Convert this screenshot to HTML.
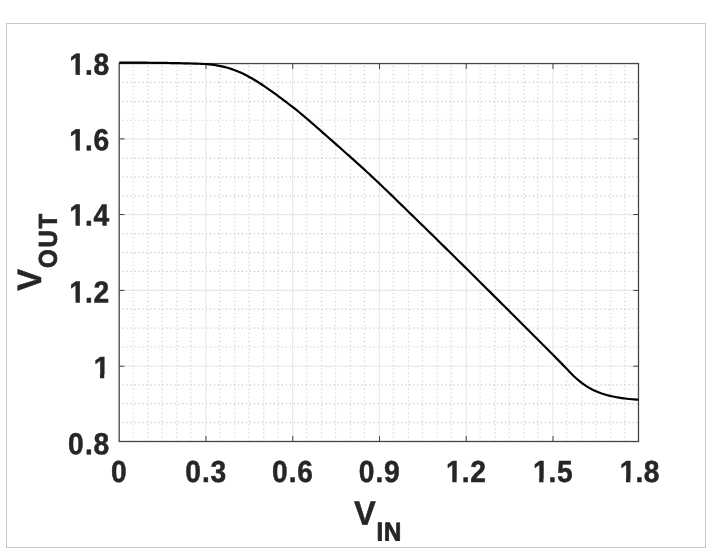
<!DOCTYPE html>
<html lang="en"><head><meta charset="utf-8"><title>VOUT vs VIN</title>
<style>
html,body{margin:0;padding:0;background:#fff;}
body{width:708px;height:555px;overflow:hidden;position:relative;}
svg{position:absolute;left:0;top:0;display:block;}
text{font-family:"Liberation Sans",sans-serif;font-weight:bold;fill:#262626;}
</style></head><body>
<svg width="708" height="555" viewBox="0 0 708 555">
<rect x="0" y="0" width="708" height="555" fill="#ffffff"/>
<rect x="6.5" y="23.5" width="699" height="524" fill="#ffffff" stroke="#c9c9c9" stroke-width="1"/>
<g stroke="#c9c9c9" stroke-width="1.2" stroke-dasharray="1 2.985" fill="none">
<line x1="133.10" y1="65.95" x2="133.10" y2="441.50"/>
<line x1="148.09" y1="65.95" x2="148.09" y2="441.50"/>
<line x1="162.16" y1="65.95" x2="162.16" y2="441.50"/>
<line x1="176.95" y1="65.95" x2="176.95" y2="441.50"/>
<line x1="191.01" y1="65.95" x2="191.01" y2="441.50"/>
<line x1="219.86" y1="65.95" x2="219.86" y2="441.50"/>
<line x1="234.85" y1="65.95" x2="234.85" y2="441.50"/>
<line x1="248.92" y1="65.95" x2="248.92" y2="441.50"/>
<line x1="263.71" y1="65.95" x2="263.71" y2="441.50"/>
<line x1="277.77" y1="65.95" x2="277.77" y2="441.50"/>
<line x1="306.62" y1="65.95" x2="306.62" y2="441.50"/>
<line x1="321.61" y1="65.95" x2="321.61" y2="441.50"/>
<line x1="335.68" y1="65.95" x2="335.68" y2="441.50"/>
<line x1="350.47" y1="65.95" x2="350.47" y2="441.50"/>
<line x1="364.53" y1="65.95" x2="364.53" y2="441.50"/>
<line x1="393.38" y1="65.95" x2="393.38" y2="441.50"/>
<line x1="408.37" y1="65.95" x2="408.37" y2="441.50"/>
<line x1="422.44" y1="65.95" x2="422.44" y2="441.50"/>
<line x1="437.23" y1="65.95" x2="437.23" y2="441.50"/>
<line x1="451.29" y1="65.95" x2="451.29" y2="441.50"/>
<line x1="480.14" y1="65.95" x2="480.14" y2="441.50"/>
<line x1="495.13" y1="65.95" x2="495.13" y2="441.50"/>
<line x1="509.20" y1="65.95" x2="509.20" y2="441.50"/>
<line x1="523.99" y1="65.95" x2="523.99" y2="441.50"/>
<line x1="538.05" y1="65.95" x2="538.05" y2="441.50"/>
<line x1="566.90" y1="65.95" x2="566.90" y2="441.50"/>
<line x1="581.89" y1="65.95" x2="581.89" y2="441.50"/>
<line x1="595.96" y1="65.95" x2="595.96" y2="441.50"/>
<line x1="610.75" y1="65.95" x2="610.75" y2="441.50"/>
<line x1="624.81" y1="65.95" x2="624.81" y2="441.50"/>
<line stroke="#bdbdbd" x1="122.50" y1="422.60" x2="638.50" y2="422.60"/>
<line stroke="#bdbdbd" x1="122.50" y1="403.71" x2="638.50" y2="403.71"/>
<line stroke="#bdbdbd" x1="122.50" y1="384.81" x2="638.50" y2="384.81"/>
<line stroke="#bdbdbd" x1="122.50" y1="347.01" x2="638.50" y2="347.01"/>
<line stroke="#bdbdbd" x1="122.50" y1="328.12" x2="638.50" y2="328.12"/>
<line stroke="#bdbdbd" x1="122.50" y1="309.22" x2="638.50" y2="309.22"/>
<line stroke="#bdbdbd" x1="122.50" y1="271.42" x2="638.50" y2="271.42"/>
<line stroke="#bdbdbd" x1="122.50" y1="252.53" x2="638.50" y2="252.53"/>
<line stroke="#bdbdbd" x1="122.50" y1="233.63" x2="638.50" y2="233.63"/>
<line stroke="#bdbdbd" x1="122.50" y1="195.83" x2="638.50" y2="195.83"/>
<line stroke="#bdbdbd" x1="122.50" y1="176.94" x2="638.50" y2="176.94"/>
<line stroke="#bdbdbd" x1="122.50" y1="158.04" x2="638.50" y2="158.04"/>
<line stroke="#bdbdbd" x1="122.50" y1="120.24" x2="638.50" y2="120.24"/>
<line stroke="#bdbdbd" x1="122.50" y1="101.34" x2="638.50" y2="101.34"/>
<line stroke="#bdbdbd" x1="122.50" y1="82.45" x2="638.50" y2="82.45"/>
</g>
<g stroke="#e7e7e7" stroke-width="1.15" fill="none">
<line x1="205.96" y1="63.55" x2="205.96" y2="441.50"/>
<line x1="292.72" y1="63.55" x2="292.72" y2="441.50"/>
<line x1="379.48" y1="63.55" x2="379.48" y2="441.50"/>
<line x1="466.24" y1="63.55" x2="466.24" y2="441.50"/>
<line x1="553.00" y1="63.55" x2="553.00" y2="441.50"/>
<line x1="119.20" y1="366.20" x2="638.50" y2="366.20"/>
<line x1="119.20" y1="290.42" x2="638.50" y2="290.42"/>
<line x1="119.20" y1="214.55" x2="638.50" y2="214.55"/>
<line x1="119.20" y1="138.90" x2="638.50" y2="138.90"/>
</g>
<g stroke="#404040" stroke-width="1" fill="none">
<line x1="205.96" y1="441.50" x2="205.96" y2="436.10"/>
<line x1="205.96" y1="63.55" x2="205.96" y2="68.95"/>
<line x1="292.72" y1="441.50" x2="292.72" y2="436.10"/>
<line x1="292.72" y1="63.55" x2="292.72" y2="68.95"/>
<line x1="379.48" y1="441.50" x2="379.48" y2="436.10"/>
<line x1="379.48" y1="63.55" x2="379.48" y2="68.95"/>
<line x1="466.24" y1="441.50" x2="466.24" y2="436.10"/>
<line x1="466.24" y1="63.55" x2="466.24" y2="68.95"/>
<line x1="553.00" y1="441.50" x2="553.00" y2="436.10"/>
<line x1="553.00" y1="63.55" x2="553.00" y2="68.95"/>
<line x1="119.20" y1="366.20" x2="124.50" y2="366.20"/>
<line x1="638.50" y1="366.20" x2="633.20" y2="366.20"/>
<line x1="119.20" y1="290.42" x2="124.50" y2="290.42"/>
<line x1="638.50" y1="290.42" x2="633.20" y2="290.42"/>
<line x1="119.20" y1="214.55" x2="124.50" y2="214.55"/>
<line x1="638.50" y1="214.55" x2="633.20" y2="214.55"/>
<line x1="119.20" y1="138.90" x2="124.50" y2="138.90"/>
<line x1="638.50" y1="138.90" x2="633.20" y2="138.90"/>
</g>
<rect x="119.20" y="63.55" width="519.30" height="377.95" fill="none" stroke="#454545" stroke-width="1.3"/>
<path d="M119.2 62.53 L121.7 62.53 L124.2 62.54 L126.7 62.55 L129.2 62.57 L131.7 62.58 L134.2 62.60 L136.7 62.61 L139.2 62.63 L141.7 62.65 L144.2 62.67 L146.7 62.70 L149.2 62.73 L151.7 62.75 L154.2 62.78 L156.7 62.82 L159.2 62.85 L161.7 62.89 L164.2 62.93 L166.7 62.97 L169.2 63.01 L171.7 63.06 L174.2 63.11 L176.7 63.15 L179.2 63.20 L181.7 63.26 L184.2 63.31 L186.7 63.37 L189.2 63.42 L191.7 63.49 L194.2 63.56 L196.7 63.65 L199.2 63.75 L201.7 63.87 L204.2 64.02 L206.7 64.21 L209.2 64.43 L211.7 64.69 L214.2 65.01 L216.7 65.39 L219.2 65.82 L221.7 66.33 L224.2 66.90 L226.7 67.56 L229.2 68.29 L231.7 69.09 L234.2 69.97 L236.7 70.94 L239.2 71.98 L241.7 73.10 L244.2 74.30 L246.7 75.56 L249.2 76.91 L251.7 78.31 L254.2 79.78 L256.7 81.30 L259.2 82.89 L261.7 84.52 L264.2 86.18 L266.7 87.88 L269.2 89.62 L271.7 91.39 L274.2 93.17 L276.7 94.98 L279.2 96.80 L281.7 98.65 L284.2 100.52 L286.7 102.41 L289.2 104.32 L291.7 106.26 L294.2 108.23 L296.7 110.23 L299.2 112.26 L301.7 114.32 L304.2 116.41 L306.7 118.53 L309.2 120.68 L311.7 122.84 L314.2 125.02 L316.7 127.21 L319.2 129.41 L321.7 131.61 L324.2 133.81 L326.7 136.02 L329.2 138.22 L331.7 140.43 L334.2 142.64 L336.7 144.84 L339.2 147.05 L341.7 149.26 L344.2 151.48 L346.7 153.70 L349.2 155.93 L351.7 158.16 L354.2 160.40 L356.7 162.64 L359.2 164.90 L361.7 167.16 L364.2 169.43 L366.7 171.72 L369.2 174.03 L371.7 176.34 L374.2 178.68 L376.7 181.03 L379.2 183.39 L381.7 185.77 L384.2 188.17 L386.7 190.57 L389.2 192.98 L391.7 195.41 L394.2 197.83 L396.7 200.26 L399.2 202.69 L401.7 205.12 L404.2 207.56 L406.7 209.99 L409.2 212.43 L411.7 214.87 L414.2 217.31 L416.7 219.74 L419.2 222.18 L421.7 224.62 L424.2 227.06 L426.7 229.50 L429.2 231.94 L431.7 234.39 L434.2 236.83 L436.7 239.28 L439.2 241.74 L441.7 244.19 L444.2 246.65 L446.7 249.11 L449.2 251.57 L451.7 254.03 L454.2 256.50 L456.7 258.96 L459.2 261.43 L461.7 263.90 L464.2 266.37 L466.7 268.84 L469.2 271.31 L471.7 273.79 L474.2 276.26 L476.7 278.74 L479.2 281.22 L481.7 283.70 L484.2 286.18 L486.7 288.67 L489.2 291.15 L491.7 293.64 L494.2 296.12 L496.7 298.61 L499.2 301.10 L501.7 303.60 L504.2 306.09 L506.7 308.58 L509.2 311.08 L511.7 313.57 L514.2 316.07 L516.7 318.57 L519.2 321.06 L521.7 323.56 L524.2 326.06 L526.7 328.56 L529.2 331.06 L531.7 333.56 L534.2 336.06 L536.7 338.56 L539.2 341.07 L541.7 343.57 L544.2 346.07 L546.7 348.58 L549.2 351.08 L551.7 353.59 L554.2 356.09 L556.7 358.60 L559.2 361.10 L561.7 363.63 L564.2 366.20 L566.7 368.81 L569.2 371.46 L571.7 374.06 L574.2 376.50 L576.7 378.78 L579.2 380.90 L581.7 382.87 L584.2 384.69 L586.7 386.35 L589.2 387.85 L591.7 389.22 L594.2 390.47 L596.7 391.59 L599.2 392.58 L601.7 393.47 L604.2 394.28 L606.7 395.01 L609.2 395.66 L611.7 396.24 L614.2 396.77 L616.7 397.25 L619.2 397.68 L621.7 398.06 L624.2 398.41 L626.7 398.72 L629.2 399.00 L631.7 399.24 L634.2 399.44 L636.7 399.61 L638.5 399.70" fill="none" stroke="#000000" stroke-width="2.2" stroke-linejoin="round" stroke-linecap="butt"/>
<text transform="translate(68.08 454.20) rotate(0.03) scale(0.9250 1)" x="0.00 18.26 27.38" y="0" font-size="30.5" stroke="#262626" stroke-width="0.5" stroke-linejoin="round">0.8</text>
<text transform="translate(93.71 378.11) rotate(0.03) scale(0.9250 1)" x="0.00" y="0" font-size="30.5" stroke="#262626" stroke-width="0.5" stroke-linejoin="round">1</text>
<text transform="translate(69.33 302.57) rotate(0.03) scale(0.9250 1)" x="0.00 16.91 26.03" y="0" font-size="30.5" stroke="#262626" stroke-width="0.5" stroke-linejoin="round">1.2</text>
<text transform="translate(69.33 225.58) rotate(0.03) scale(0.9250 1)" x="0.00 16.91 26.03" y="0" font-size="30.5" stroke="#262626" stroke-width="0.5" stroke-linejoin="round">1.4</text>
<text transform="translate(69.33 150.34) rotate(0.03) scale(0.9250 1)" x="0.00 16.91 26.03" y="0" font-size="30.5" stroke="#262626" stroke-width="0.5" stroke-linejoin="round">1.6</text>
<text transform="translate(69.33 74.70) rotate(0.03) scale(0.9250 1)" x="0.00 16.91 26.03" y="0" font-size="30.5" stroke="#262626" stroke-width="0.5" stroke-linejoin="round">1.8</text>
<text transform="translate(111.05 482.10) rotate(0.03) scale(0.9250 1)" x="0.00" y="0" font-size="30.5" stroke="#262626" stroke-width="0.5" stroke-linejoin="round">0</text>
<text transform="translate(185.15 482.10) rotate(0.03) scale(0.9250 1)" x="0.00 18.26 27.38" y="0" font-size="30.5" stroke="#262626" stroke-width="0.5" stroke-linejoin="round">0.3</text>
<text transform="translate(271.91 482.10) rotate(0.03) scale(0.9250 1)" x="0.00 18.26 27.38" y="0" font-size="30.5" stroke="#262626" stroke-width="0.5" stroke-linejoin="round">0.6</text>
<text transform="translate(358.67 482.10) rotate(0.03) scale(0.9250 1)" x="0.00 18.26 27.38" y="0" font-size="30.5" stroke="#262626" stroke-width="0.5" stroke-linejoin="round">0.9</text>
<text transform="translate(446.08 482.10) rotate(0.03) scale(0.9250 1)" x="0.00 16.91 26.03" y="0" font-size="30.5" stroke="#262626" stroke-width="0.5" stroke-linejoin="round">1.2</text>
<text transform="translate(532.94 482.00) rotate(0.03) scale(0.9250 1)" x="0.00 16.91 26.03" y="0" font-size="30.5" stroke="#262626" stroke-width="0.5" stroke-linejoin="round">1.5</text>
<text transform="translate(619.80 482.00) rotate(0.03) scale(0.9250 1)" x="0.00 16.91 26.03" y="0" font-size="30.5" stroke="#262626" stroke-width="0.5" stroke-linejoin="round">1.8</text>
<g fill="#ffffff">
<rect x="93.66" y="374.75" width="6.28" height="5.11"/>
<rect x="104.23" y="374.75" width="6.22" height="5.11"/>
<rect x="93.66" y="373.75" width="5.73" height="2.00"/>
<rect x="104.78" y="373.75" width="5.67" height="2.00"/>
<rect x="69.28" y="299.21" width="6.28" height="5.11"/>
<rect x="79.85" y="299.21" width="6.22" height="5.11"/>
<rect x="69.28" y="298.21" width="5.73" height="2.00"/>
<rect x="80.40" y="298.21" width="5.67" height="2.00"/>
<rect x="69.28" y="222.22" width="6.28" height="5.11"/>
<rect x="79.85" y="222.22" width="6.22" height="5.11"/>
<rect x="69.28" y="221.22" width="5.73" height="2.00"/>
<rect x="80.40" y="221.22" width="5.67" height="2.00"/>
<rect x="69.28" y="146.98" width="6.28" height="5.11"/>
<rect x="79.85" y="146.98" width="6.22" height="5.11"/>
<rect x="69.28" y="145.98" width="5.73" height="2.00"/>
<rect x="80.40" y="145.98" width="5.67" height="2.00"/>
<rect x="69.28" y="71.34" width="6.28" height="5.11"/>
<rect x="79.85" y="71.34" width="6.22" height="5.11"/>
<rect x="69.28" y="70.34" width="5.73" height="2.00"/>
<rect x="80.40" y="70.34" width="5.67" height="2.00"/>
<rect x="446.03" y="478.74" width="6.28" height="5.11"/>
<rect x="456.60" y="478.74" width="6.22" height="5.11"/>
<rect x="446.03" y="477.74" width="5.73" height="2.00"/>
<rect x="457.15" y="477.74" width="5.67" height="2.00"/>
<rect x="532.89" y="478.64" width="6.28" height="5.11"/>
<rect x="543.46" y="478.64" width="6.22" height="5.11"/>
<rect x="532.89" y="477.64" width="5.73" height="2.00"/>
<rect x="544.01" y="477.64" width="5.67" height="2.00"/>
<rect x="619.75" y="478.64" width="6.28" height="5.11"/>
<rect x="630.32" y="478.64" width="6.22" height="5.11"/>
<rect x="619.75" y="477.64" width="5.73" height="2.00"/>
<rect x="630.87" y="477.64" width="5.67" height="2.00"/>
</g>
<text transform="translate(353.90 524.80) rotate(0.03) scale(0.93 1)" font-size="33.8" stroke="#262626" stroke-width="0.5" stroke-linejoin="round"><tspan textLength="23.4" lengthAdjust="spacingAndGlyphs">V</tspan><tspan font-size="25.8" stroke-width="0.8" letter-spacing="0.9" dx="0.8" dy="15.7">IN</tspan></text>
<text transform="translate(41.00 290.80) rotate(-89.97) scale(0.93 1)" font-size="33.8" stroke="#262626" stroke-width="0.5" stroke-linejoin="round"><tspan textLength="23.4" lengthAdjust="spacingAndGlyphs">V</tspan><tspan font-size="25.8" stroke-width="0.8" letter-spacing="1.9" dx="1.2" dy="15.7">OUT</tspan></text>
</svg>
</body></html>
